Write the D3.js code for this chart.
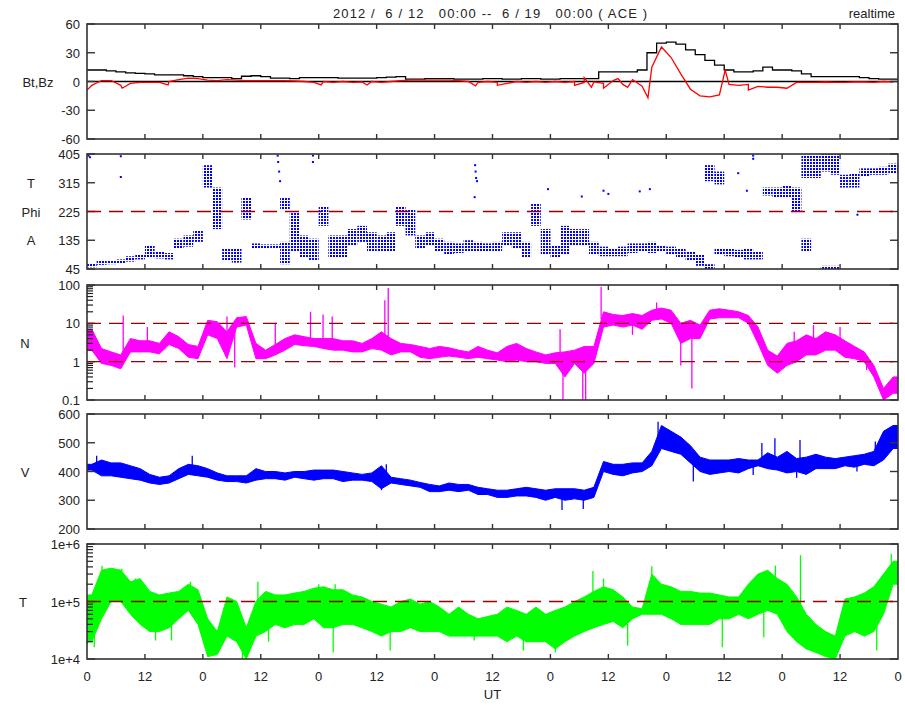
<!DOCTYPE html>
<html><head><meta charset="utf-8">
<script src="https://cdn.jsdelivr.net/npm/d3@7"></script>
<style>
body{margin:0;background:#fff}
svg{display:block}
text{font-family:"Liberation Sans",Arial,Helvetica,sans-serif;font-size:13px;fill:#222}
</style>
</head><body>
<svg id="chart" width="905" height="705"></svg>
<script>
// ACE real-time solar wind, 2012-06-12 00:00 to 2012-06-19 00:00 UT.
// Values are given in 2-hour bins (bin i covers hours 2i..2i+2).
// Noisy quantities are given as the low/high envelope of each bin,
// plus lists of single excursions [hour, value].

const dayTickLabels = ["0","12","0","12","0","12","0","12","0","12","0","12","0","12","0"];

// Bt and Bz (nT)
const btValues = [12,12,11,10,9,8.5,8,7,7,7,6,5,
  4,4,4,3,5.5,6,5,3.5,3.5,3,
  4,4,4,4,3.5,3.5,3.5,3.5,
  4,4.5,5,
  2.5,2.5,3,3,3,2.5,2.5,2.5,3,3,2.5,2.5,3,3,2.5,2.5,3,3,3,3,
  10,10,10,10,12,
  30,40,41,39,33,28,22,17,12,10,10,11,
  15,12,12,11,8,5,5,5,5,5,4,3,2.5,2.5];
const bzValues = [-4,1,1,-4,-2,-1,-1,-1,0,2,3.5,3,
  1.5,1,2,1.5,1,1,1,1,1,0.5,
  0,-1,0,-1,0,-1,-0.5,0,-1,0,1,1.5,
  1.5,1.5,1.5,1.5,1,0,
  -1,0,-1,-2,0,-1,0,-1,0,-1,0,-1,-0.5,
  -2,1,-3,2,-5,
  15,36,25,8,-8,-15,-16,-14,
  -3,-4,-3,-5,-6,-6,-7,
  -1,-1,-1,-0.5,-1,-1,-0.5,-0.5,-1,0,-0.5];
const bzSpikes = [[0,-9],[7.3,-7],[16.8,-3.6],[48.5,-3.6],[58,-3.6],[80.5,-4.5],[85,-4],[101,-4],
  [103,4],[104.5,-6],[107,-7],[110,3],[112,-6],[116.2,-17],[132.2,12],[137,-9]];

// Phi (deg)
const phiLo = [50,58,60,62,68,75,80,78,75,110,
  115,130,300,170,70,65,200,110,108,108,
  230,100,80,70,180,80,80,120,130,100,
  100,100,180,150,110,120,100,90,95,100,
  100,100,100,120,110,80,180,90,80,90,
  120,120,90,85,85,85,95,100,95,100,
  90,80,70,55,320,310,85,80,75,75,
  275,270,270,220,100,330,350,340,300,300,
  335,340,340,345];
const phiHi = [62,70,72,75,85,90,120,100,95,140,
  150,165,370,300,110,110,270,125,122,122,
  270,220,150,140,240,150,150,170,180,160,
  150,160,240,230,150,160,140,130,125,135,
  130,125,130,160,160,130,250,170,120,180,
  170,170,130,115,110,115,125,125,130,120,
  115,110,100,90,370,350,110,105,110,100,
  300,300,305,300,140,400,405,405,340,345,
  360,360,365,375];
// secondary clusters: [start hour, low, high]
const phiExtra = [[40,60,130],[128,45,60],[130,90,110],[148,330,400],[152,45,55],[154,45,55]];
// isolated samples: [hour, phi]
const phiDots = [[0.3,400],[0.6,395],[7,398],[7,333],[39.5,400],[39.6,380],[39.8,350],[40,320],
  [46.8,400],[46.8,380],[80.3,270],[80.4,370],[80.5,350],[80.6,330],[80.8,320],[95.5,295],
  [102.5,272],[107,290],[108,280],[114.5,288],[116.6,295],[134.9,345],[136.7,290],[138,400],[138,390],[159.6,215]];

// N (/cc)
const nLo = [2,0.9,0.8,0.65,1.8,1.8,1.8,1.6,2.8,2.2,
  1.3,1.2,5,4,1.2,8,9,1.2,1.2,1.5,
  2,2.8,2.6,2.5,2.2,2,2,1.8,1.8,2.2,
  2,1.5,1.8,1.8,1.3,1.2,1.3,1.4,1.3,1.2,
  1.3,1.2,1.1,1,1.1,1,1,0.9,0.9,0.4,
  0.9,0.5,0.9,8,9,8,9,7,12,13,
  10,3,4,4,13,14,14,14,10,3,
  0.8,0.5,0.8,1,1.5,1.5,2,2,1.3,1.2,
  1,0.4,0.1,0.15];
const nHi = [7,2.2,1.8,1.5,4,3.5,3.5,3,6,4.5,
  2.8,2.5,12,11,6,14,15,3,2,2.8,
  4,5,4.5,4,4,4,3.5,3.5,3,4,
  6,4,3,2.8,2.5,2.2,2.5,2.3,2,1.8,
  2.5,2,1.7,2.5,3,2.2,1.8,1.5,1.7,1.8,
  2,2.5,2.5,20,17,16,18,16,22,25,
  22,10,12,9,22,24,22,20,16,8,
  2,1.4,3,3.5,5,4,6,5,3.5,2.5,
  1.8,0.8,0.2,0.4];
const nSpikes = [[7.5,16],[12.5,8],[29,15],[30.6,0.7],[39,10],[46.3,20],[48.9,17],[50.8,15],
  [61.7,40],[62.4,83],[98,7],[98.6,0.1],[102.7,0.1],[103.3,0.1],[106.5,90],[123,0.8],[125.3,0.2],
  [113,5],[118,35],[146.5,6],[150.5,9],[156,8],[161.5,0.6]];

// V (km/s)
const vLo = [405,385,385,380,375,370,360,355,360,375,
  390,385,380,370,365,365,360,370,375,375,
  370,380,375,370,375,375,365,370,370,365,
  340,360,355,350,345,330,330,335,330,335,
  320,320,310,310,315,315,310,300,310,300,
  305,300,310,400,390,385,395,400,420,480,
  470,460,430,400,390,395,400,395,410,420,
  410,405,395,400,390,410,410,410,420,415,
  425,420,440,480];
const vHi = [425,440,430,430,420,410,390,380,385,410,
  425,420,410,395,385,385,385,410,400,400,
  395,400,400,405,405,405,400,395,390,395,
  420,380,375,370,362,355,350,360,355,355,
  345,340,335,335,340,345,340,335,340,340,
  340,335,345,435,425,425,430,430,470,560,
  540,520,490,450,440,440,440,445,440,440,
  465,450,470,445,450,460,450,445,450,455,
  460,470,540,560];
const vSpikes = [[2,455],[21.8,455],[61,335],[62,425],[98.4,266],[102.8,270],[118.3,573],[125.6,365],
  [138,388],[139.8,499],[142.5,516],[147,378],[147.7,510],[159.5,400],[163.3,504]];

// T (K)
const tLo = [2e4,5e4,1e5,1e5,6e4,4e4,3e4,3e4,3.5e4,5e4,
  7e4,4e4,1.1e4,1.2e4,2.5e4,2e4,1e4,2.5e4,3e4,4e4,
  3.5e4,4e4,4e4,5e4,3.5e4,3.5e4,4e4,4e4,3.5e4,3e4,
  2.5e4,3e4,3e4,3.5e4,3e4,3e4,3e4,2.5e4,2.5e4,2.5e4,
  2.5e4,2.5e4,2.5e4,2e4,2.5e4,2e4,2e4,2e4,1.5e4,2e4,
  2.5e4,3e4,3.5e4,4e4,4.5e4,3.5e4,5e4,6e4,6e4,6e4,
  5e4,4e4,4e4,4e4,4e4,5e4,5e4,6e4,5e4,6e4,
  7e4,6e4,3e4,2e4,1.5e4,1.3e4,1.1e4,1e4,2.5e4,3e4,
  2.5e4,3e4,6e4,2e5];
const tHi = [1.3e5,3.5e5,3.8e5,3.5e5,2.2e5,2.5e5,1.5e5,1.3e5,1.4e5,1.5e5,
  2e5,1.6e5,5e4,3e4,1.2e5,1e5,3.5e4,1e5,1.5e5,1.3e5,
  1.3e5,1.4e5,1.5e5,1.7e5,1.8e5,1.6e5,1.6e5,1.3e5,1.2e5,1e5,
  9e4,8e4,1e5,1.1e5,9e4,1e5,8e4,6e4,8e4,6e4,
  5e4,5.5e4,6e4,8e4,7e4,6e4,8e4,6e4,7e4,8e4,
  1e5,1.2e5,1.5e5,1.8e5,1.6e5,1.2e5,8e4,7.5e4,3e5,2e5,
  1.8e5,1.5e5,1.5e5,1.4e5,1.4e5,1.3e5,1.2e5,1.2e5,2e5,3e5,
  3.5e5,2.5e5,2e5,1.2e5,6e4,4e4,3e4,2.5e4,1.1e5,1.2e5,
  1.4e5,1.8e5,3e5,5e5];
const tSpikes = [[0,1.8e4],[1.5,1.6e4],[3.1,4.2e5],[5.2,3.8e5],[7.2,3.7e5],[10,2.5e5],[14.2,2.1e4],
  [17.5,2.1e4],[21.4,2.2e5],[25,1.1e4],[32.2,1e4],[35.4,2.2e5],[37.6,2e4],[48,2e5],[51,1.3e4],
  [51.4,2e5],[62.8,1.4e4],[80.2,2.1e4],[90.4,1.4e4],[97,1.3e4],[104.8,3.4e5],[107,2.5e5],
  [112,1.7e4],[117,4.1e5],[131.6,1.6e4],[138.8,2.8e5],[140.2,2.4e4],[142.6,4.2e5],[147.8,6.4e5],
  [163.6,1.4e4],[166.6,6.8e5]];

// ---------------------------------------------------------------
const svg = d3.select("#chart");
const L = 87, R = 898, PH = 115;
const x = d3.scaleLinear().domain([0, 168]).range([L, R]);
const binStart = i => i * 2;
const binMid = i => i * 2 + 1;
const dashColor = "#990000";

// dotted fill used for the scattered Phi samples
const defs = svg.append("defs");
defs.append("pattern").attr("id", "phiDotsFill").attr("patternUnits", "userSpaceOnUse")
  .attr("width", 3).attr("height", 3)
  .append("rect").attr("width", 2).attr("height", 2).attr("fill", "#0000ff");

svg.append("text").attr("x", 333).attr("y", 18)
  .attr("textLength", 314).attr("lengthAdjust", "spacing")
  .style("white-space", "pre").text("2012 /  6 / 12   00:00 --  6 / 19   00:00 ( ACE )");
svg.append("text").attr("x", 895).attr("y", 18).attr("text-anchor", "end").text("realtime");

function panel(id, top, y, ticks, fmt, names, minor) {
  const g = svg.append("g");
  svg.append("clipPath").attr("id", "clip" + id).append("rect")
    .attr("x", L).attr("y", top).attr("width", R - L).attr("height", PH);
  const data = g.append("g").attr("clip-path", `url(#clip${id})`);
  const deco = svg.append("g");
  deco.append("rect").attr("x", L).attr("y", top).attr("width", R - L).attr("height", PH)
    .attr("fill", "none").attr("stroke", "#333").attr("stroke-width", 1.6);
  d3.range(12, 168, 12).forEach(h => {
    deco.append("line").attr("x1", x(h)).attr("x2", x(h)).attr("y1", top).attr("y2", top + 5)
      .attr("stroke", "#333").attr("stroke-width", 1.4);
    deco.append("line").attr("x1", x(h)).attr("x2", x(h)).attr("y1", top + PH).attr("y2", top + PH - 5)
      .attr("stroke", "#333").attr("stroke-width", 1.4);
  });
  ticks.forEach(v => {
    const yy = y(v);
    deco.append("line").attr("x1", L).attr("x2", L + 8).attr("y1", yy).attr("y2", yy)
      .attr("stroke", "#333").attr("stroke-width", 1.4);
    deco.append("line").attr("x1", R - 8).attr("x2", R).attr("y1", yy).attr("y2", yy)
      .attr("stroke", "#333").attr("stroke-width", 1.4);
    deco.append("text").attr("x", 80).attr("y", yy + 5).attr("text-anchor", "end").text(fmt(v));
  });
  if (minor) {
    minor.forEach(v => {
      deco.append("line").attr("x1", L).attr("x2", L + 6).attr("y1", y(v)).attr("y2", y(v))
        .attr("stroke", "#222").attr("stroke-width", 1.2);
    });
  }
  names.forEach(n => {
    deco.append("text").attr("x", n[0]).attr("y", n[1]).attr("text-anchor", "middle").text(n[2]);
  });
  return { data, deco };
}

function dashed(g, y, v) {
  g.append("line").attr("x1", L).attr("x2", R).attr("y1", y(v)).attr("y2", y(v))
    .attr("stroke", dashColor).attr("stroke-width", 1.4).attr("stroke-dasharray", "14,8");
}

function band(g, lo, hi, y, color) {
  const pts = lo.map((v, i) => ({ t: binMid(i), lo: v, hi: hi[i] }));
  pts.unshift({ t: 0, lo: lo[0], hi: hi[0] });
  pts.push({ t: 168, lo: lo[lo.length - 1], hi: hi[hi.length - 1] });
  g.append("path").datum(pts)
    .attr("d", d3.area().x(d => x(d.t)).y0(d => y(d.lo)).y1(d => y(d.hi)))
    .attr("fill", color).attr("stroke", color).attr("stroke-width", 1);
}

function spikes(g, list, lo, hi, y, color) {
  list.forEach(([t, v]) => {
    const i = Math.min(lo.length - 1, Math.floor(t / 2));
    const mid = (y(lo[i]) + y(hi[i])) / 2;
    g.append("line").attr("x1", x(t)).attr("x2", x(t)).attr("y1", mid).attr("y2", y(v))
      .attr("stroke", color).attr("stroke-width", 1.3);
  });
}

function minorLog(e0, e1) {
  const out = [];
  for (let e = e0; e < e1; e++) for (let k = 2; k <= 9; k++) out.push(k * Math.pow(10, e));
  return out;
}

// ---- Bt, Bz
{
  const top = 24;
  const y = d3.scaleLinear().domain([-60, 60]).range([top + PH, top]);
  const p = panel(1, top, y, [-60, -30, 0, 30, 60], d => d, [[38, y(0) + 5, "Bt,Bz"]]);
  p.data.append("line").attr("x1", L).attr("x2", R).attr("y1", y(0)).attr("y2", y(0))
    .attr("stroke", "#000").attr("stroke-width", 1.3);
  const bt = btValues.map((v, i) => ({ t: binStart(i), v }));
  bt.push({ t: 168, v: btValues[btValues.length - 1] });
  p.data.append("path").datum(bt)
    .attr("d", d3.line().curve(d3.curveStepAfter).x(d => x(d.t)).y(d => y(d.v)))
    .attr("fill", "none").attr("stroke", "#000").attr("stroke-width", 1.3);
  const bz = bzValues.map((v, i) => ({ t: binMid(i), v }))
    .concat(bzSpikes.map(([t, v]) => ({ t, v }))).sort((a, b) => a.t - b.t);
  p.data.append("path").datum(bz)
    .attr("d", d3.line().x(d => x(d.t)).y(d => y(d.v)))
    .attr("fill", "none").attr("stroke", "#ff0000").attr("stroke-width", 1.3);
}

// ---- Phi
{
  const top = 154;
  const y = d3.scaleLinear().domain([45, 405]).range([top + PH, top]);
  const p = panel(2, top, y, [45, 135, 225, 315, 405], d => d,
    [[31, y(315) + 5, "T"], [31, y(225) + 5, "Phi"], [31, y(135) + 5, "A"]]);
  const blue = "#0000ff";
  phiLo.forEach((lo, i) => {
    p.data.append("rect").attr("x", x(binStart(i))).attr("width", x(2) - x(0))
      .attr("y", y(phiHi[i])).attr("height", Math.max(2, y(lo) - y(phiHi[i]))).attr("fill", "url(#phiDotsFill)");
  });
  phiExtra.forEach(([t, lo, hi]) => {
    p.data.append("rect").attr("x", x(t)).attr("width", x(2) - x(0))
      .attr("y", y(hi)).attr("height", Math.max(2, y(lo) - y(hi))).attr("fill", "url(#phiDotsFill)");
  });
  phiDots.forEach(([t, v]) => {
    p.data.append("rect").attr("x", x(t) - 1).attr("y", y(v) - 1).attr("width", 2).attr("height", 2).attr("fill", blue);
  });
  dashed(p.deco, y, 225);
}

// ---- N
{
  const top = 285;
  const y = d3.scaleLog().domain([0.1, 100]).range([top + PH, top]).clamp(true);
  const p = panel(3, top, y, [0.1, 1, 10, 100], d => d, [[25, y(Math.sqrt(10)) + 5, "N"]], minorLog(-1, 2));
  const mag = "#ff00ff";
  band(p.data, nLo, nHi, y, mag);
  spikes(p.data, nSpikes, nLo, nHi, y, mag);
  dashed(p.deco, y, 1);
  dashed(p.deco, y, 10);
}

// ---- V
{
  const top = 414;
  const y = d3.scaleLinear().domain([200, 600]).range([top + PH, top]);
  const p = panel(4, top, y, [200, 300, 400, 500, 600], d => d, [[25, y(400) + 5, "V"]]);
  const blue = "#0000ff";
  band(p.data, vLo, vHi, y, blue);
  spikes(p.data, vSpikes, vLo, vHi, y, blue);
}

// ---- T
{
  const top = 544;
  const y = d3.scaleLog().domain([1e4, 1e6]).range([top + PH, top]).clamp(true);
  const fmt = d => "1e+" + Math.round(Math.log10(d));
  const p = panel(5, top, y, [1e4, 1e5, 1e6], fmt, [[23, y(1e5) + 5, "T"]], minorLog(4, 6));
  const green = "#00ff00";
  band(p.data, tLo, tHi, y, green);
  spikes(p.data, tSpikes, tLo, tHi, y, green);
  dashed(p.deco, y, 1e5);

  dayTickLabels.forEach((lab, k) => {
    svg.append("text").attr("x", x(k * 12)).attr("y", 681).attr("text-anchor", "middle").text(lab);
  });
  svg.append("text").attr("x", x(84)).attr("y", 699).attr("text-anchor", "middle").text("UT");
}
</script>
</body></html>
